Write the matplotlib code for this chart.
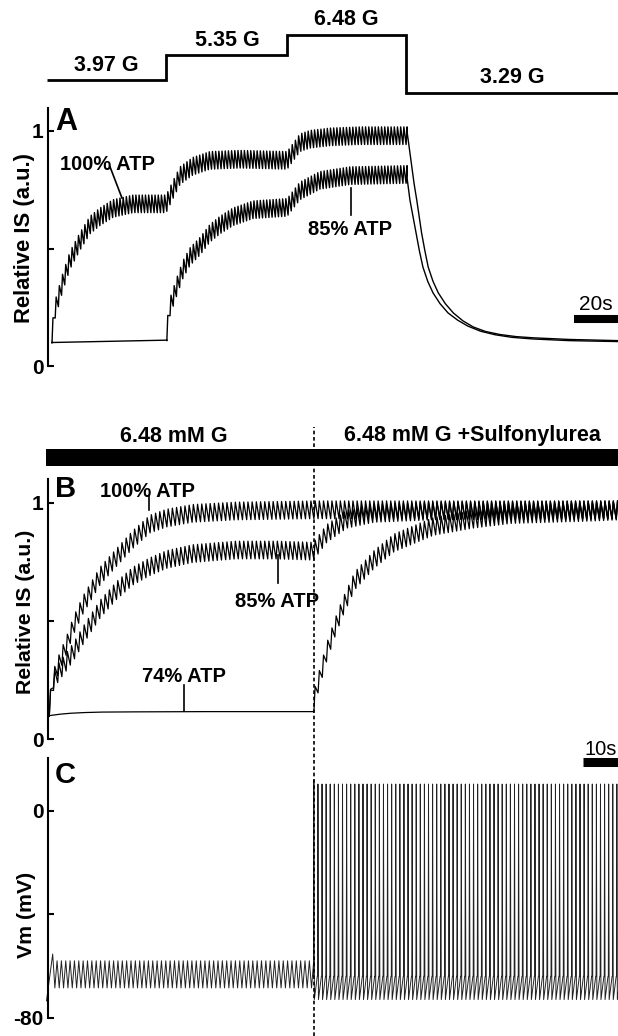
import numpy as np
import matplotlib.pyplot as plt

plt.rcParams['font.family'] = ['Liberation Sans', 'DejaVu Sans']
plt.rcParams['font.weight'] = 'bold'

W, H = 618, 1036

# ---- data ----
# glucose protocol (mM) above panel A, time in s
gluc_levels = [3.97, 5.35, 6.48, 3.29]
gluc_edges = [-2.5, 52, 107, 161, 257.3]
gluc_labels = ['3.97 G', '5.35 G', '6.48 G', '3.29 G']

# panel A: mid-line of the oscillating insulin secretion traces
a100_t = [0, 1.4, 5, 8.2, 12.7, 17.3, 21.8, 27.7, 36.8, 51.9, 55, 58.2, 64, 71.8,
          85.5, 106.9, 112.7, 117.3, 126.4, 140, 161]
a100_v = [0.135, 0.24, 0.36, 0.45, 0.53, 0.60, 0.635, 0.67, 0.69, 0.69, 0.75, 0.81,
          0.85, 0.875, 0.88, 0.875, 0.95, 0.965, 0.975, 0.98, 0.98]
a85_base_t = [0, 52.2]
a85_base_v = [0.10, 0.11]
a85_t = [52.2, 53.6, 56.8, 59.5, 62.7, 67.3, 71.8, 76.4, 82.3, 91.4, 106.9, 112.7,
         121.8, 135.5, 161]
a85_v = [0.145, 0.25, 0.34, 0.41, 0.465, 0.51, 0.565, 0.60, 0.635, 0.665, 0.675,
         0.745, 0.79, 0.81, 0.815]
# decay after glucose drop to 3.29 mM
a100_dec_t = [161.5, 162.5, 163.5, 164.6, 165.8, 166.9, 168, 169.5, 171, 173.2, 175.6,
              178.8, 182.4, 186.8, 191.5, 197, 203.6, 211, 218.6, 235, 257.3]
a100_dec_v = [0.99, 0.92, 0.847, 0.775, 0.706, 0.636, 0.566, 0.49, 0.421, 0.36, 0.311,
              0.265, 0.226, 0.192, 0.166, 0.147, 0.134, 0.125, 0.12, 0.113, 0.108]
a85_dec_t = [161.4, 162.7, 164.1, 165.5, 167, 168.6, 170.8, 173.2, 176.4, 180, 184.4,
             189, 194.8, 201.4, 209, 218.6, 235, 257.3]
a85_dec_v = [0.80, 0.706, 0.636, 0.566, 0.49, 0.421, 0.36, 0.311, 0.265, 0.226, 0.195,
             0.17, 0.148, 0.133, 0.122, 0.115, 0.108, 0.104]
a_period, a_amp = 1.45, 0.075

# panel B: 6.48 mM G, sulfonylurea added at su_time
su_time = 75.5
b_end = 162.5
b100_t = [0, 1.06, 2.5, 5.0, 6.9, 9.7, 14.5, 19.3, 23.9, 28.8, 33.5, 41, 53.3, 76, b_end]
b100_v = [0.135, 0.25, 0.31, 0.40, 0.48, 0.57, 0.69, 0.77, 0.845, 0.91, 0.935, 0.955,
          0.965, 0.97, 0.97]
b85_t = [0, 1.06, 2.5, 5.0, 6.9, 9.7, 14.5, 19.3, 23.9, 28.8, 33.5, 41, 53.3, 65, 75.5,
         79.3, 85, 92.8, 109.6, b_end]
b85_v = [0.135, 0.24, 0.28, 0.33, 0.37, 0.44, 0.55, 0.63, 0.69, 0.73, 0.76, 0.785, 0.80,
         0.80, 0.795, 0.87, 0.93, 0.955, 0.965, 0.97]
b74_base_t = [0, 3, 6, 10, 15, 25, 45, 75.5]
b74_base_v = [0.10, 0.106, 0.110, 0.113, 0.115, 0.116, 0.117, 0.117]
b74_t = [75.6, 76, 77.1, 79.3, 81.6, 83.9, 87.3, 92.8, 98.5, 109.8, 121, 132, 155, b_end]
b74_v = [0.152, 0.19, 0.25, 0.37, 0.47, 0.56, 0.67, 0.76, 0.83, 0.90, 0.93, 0.95, 0.96,
         0.965]
b_period, b_amp = 1.2, 0.075

# panel C: membrane potential (mV)
vm_start_t = [-0.8, 0.97]
vm_start_v = [-73.5, -55.4]
vm_osc_hi, vm_osc_lo, vm_osc_period = -58.0, -68.5, 1.243
spike_peak, spike_first, spike_trough, spike_thresh = 10.3, 11.7, -73.0, -64.0
spike_period = 1.17


def zigzag(env_t, env_v, period, amp, rise=0.3):
    tk = np.arange(env_t[0], env_t[-1], period)
    lo = np.interp(tk, env_t, env_v) - amp / 2
    hi = np.interp(tk + rise * period, env_t, env_v) + amp / 2
    return (np.column_stack([tk, tk + rise * period]).ravel(),
            np.column_stack([lo, hi]).ravel())


def fy(y):
    return 1 - y / H


fig = plt.figure(figsize=(W / 100, H / 100), dpi=100)


def px_axes(x0, y0, x1, y1):
    ax = fig.add_axes([x0 / W, 1 - y1 / H, (x1 - x0) / W, (y1 - y0) / H])
    ax.patch.set_alpha(0)
    return ax


def style_left(ax):
    for s in ['top', 'right', 'bottom']:
        ax.spines[s].set_visible(False)
    ax.spines['left'].set_linewidth(1.5)
    ax.set_xticks([])
    ax.tick_params(axis='y', direction='in', length=4, width=1.5, pad=3,
                   labelsize=15)


# ---- glucose protocol ----
axg = px_axes(40, 0, 618, 110)
axg.set_xlim((40 - 52) / 2.2, (618 - 52) / 2.2)
axg.set_ylim(2.329, 8.403)
axg.axis('off')
axg.stairs(gluc_levels, gluc_edges, color='black', lw=2.0, baseline=None)
for i, lab in enumerate(gluc_labels):
    mid = (gluc_edges[i] + gluc_edges[i + 1]) / 2
    axg.annotate(lab, (mid, gluc_levels[i]), xytext=(0, 7), textcoords='offset points',
                 ha='center', va='baseline', fontsize=15.5, fontweight='bold')

# ---- panel A ----
axa = px_axes(47.5, 108, 618, 366)
axa.set_xlim((47.5 - 52) / 2.2, (618 - 52) / 2.2)
axa.set_ylim(0, (366 - 108) / 235)
style_left(axa)
axa.set_yticks([0, 0.5, 1], ['0', '', '1'])

t1, v1 = zigzag(a100_t, a100_v, a_period, a_amp)
t1 = np.concatenate([[0], t1, a100_dec_t])
v1 = np.concatenate([[0.10], v1, a100_dec_v])
axa.plot(t1, v1, color='black', lw=1.0)
t2, v2 = zigzag(a85_t, a85_v, a_period, a_amp)
t2 = np.concatenate([a85_base_t, t2, a85_dec_t])
v2 = np.concatenate([a85_base_v, v2, a85_dec_v])
axa.plot(t2, v2, color='black', lw=1.0)

axa.text(25.2, (366 - 170) / 235, '100% ATP', ha='center', va='baseline', fontsize=14.5)
axa.plot([26.4, 31.8], [0.847, 0.715], color='black', lw=1.2)
axa.text(135.7, (366 - 235) / 235, '85% ATP', ha='center', va='baseline', fontsize=14.5)
axa.plot([135.9, 135.9], [0.757, 0.643], color='black', lw=1.2)

# 20 s scale bar
axa.plot([257.3 - 20, 257.3], [0.2, 0.2], color='black', lw=5.8,
         solid_capstyle='butt', clip_on=False)
axa.annotate('20s', (257.3 - 10, 0.2), xytext=(0, 6.5), textcoords='offset points',
             ha='center', va='baseline', fontsize=15, fontweight='normal')

fig.text(55 / W, fy(130), 'A', fontsize=22, fontweight='bold', va='baseline')
fig.text(25 / W, fy(238), 'Relative IS (a.u.)', rotation=90, ha='center',
         va='center', fontsize=15.8, fontweight='bold')

# ---- condition bar for B/C ----
bx0 = (47.5 - 49.3) / 3.5
axc0 = px_axes(40, 415, 618, 475)
axc0.set_xlim((40 - 49.3) / 3.5, b_end)
axc0.set_ylim(475, 415)
axc0.axis('off')
axc0.fill_between([-0.8, b_end], 449, 466, color='black', lw=0)
axc0.text(35.6, 441.5, '6.48 mM G', ha='center', va='baseline', fontsize=15.5)
axc0.text(120.8, 441.5, '6.48 mM G +Sulfonylurea', ha='center', va='baseline',
          fontsize=15.5)

# ---- panel B ----
axb = px_axes(47.5, 479, 618, 739.3)
axb.set_xlim(bx0, b_end)
axb.set_ylim(0, (739.3 - 479) / 236.6)
style_left(axb)
axb.set_yticks([0, 0.5, 1], ['0', '', '1'])

for et, ev, bt, bv in [(b100_t, b100_v, [0], [0.10]),
                       (b85_t, b85_v, [0], [0.10]),
                       (b74_t, b74_v, b74_base_t, b74_base_v)]:
    tz, vz = zigzag(et, ev, b_period, b_amp)
    axb.plot(np.concatenate([bt, tz]), np.concatenate([bv, vz]), color='black', lw=0.9)


def bv(y):
    return (739.3 - y) / 236.6


axb.text(28.2, bv(497), '100% ATP', ha='center', va='baseline', fontsize=14.5)
axb.plot([28.5, 28.5], [bv(496), bv(510)], color='black', lw=1.2, clip_on=False)
axb.text(65.1, bv(607), '85% ATP', ha='center', va='baseline', fontsize=14.5)
axb.plot([65.3, 65.3], [bv(555), bv(583)], color='black', lw=1.2)
axb.text(38.6, bv(682), '74% ATP', ha='center', va='baseline', fontsize=14.5)
axb.plot([38.6, 38.6], [bv(685), bv(711)], color='black', lw=1.2)

# 10 s scale bar
axb.plot([b_end - 10, b_end], [bv(761.5)] * 2, color='black', lw=6.5,
         solid_capstyle='butt', clip_on=False)
axb.annotate('10s', (b_end - 5, bv(761.5)), xytext=(0, 4.5), textcoords='offset points',
             ha='center', va='baseline', fontsize=14.5, fontweight='normal',
             annotation_clip=False)

fig.text(55 / W, fy(497), 'B', fontsize=21, fontweight='bold', va='baseline')
fig.text(26 / W, fy(612), 'Relative IS (a.u.)', rotation=90, ha='center',
         va='center', fontsize=15.3, fontweight='bold')

# ---- panel C ----
axv = px_axes(47.5, 758, 618, 1017.7)
axv.set_xlim(bx0, b_end)
axv.set_ylim(-80, -80 + (1017.7 - 758) / 2.5875)
style_left(axv)
axv.set_yticks([-80, -40, 0], ['-80', '', '0'])

tk = np.arange(vm_start_t[1], su_time, vm_osc_period)
t_osc = np.column_stack([tk + 0.5 * vm_osc_period, tk + vm_osc_period]).ravel()
v_osc = np.tile([vm_osc_lo, vm_osc_hi], len(tk))
sk = np.arange(su_time, b_end, spike_period)
t_sp = np.column_stack([sk, sk + 0.08 * spike_period, sk + 0.2 * spike_period,
                        sk + 0.92 * spike_period]).ravel()
peaks = np.full(len(sk), spike_peak)
peaks[0] = spike_first
v_sp = np.column_stack([np.full(len(sk), spike_thresh), peaks,
                        np.full(len(sk), spike_trough),
                        np.full(len(sk), spike_thresh)]).ravel()
t_vm = np.concatenate([vm_start_t, t_osc, t_sp])
v_vm = np.concatenate([vm_start_v, v_osc, v_sp])
axv.plot(t_vm, v_vm, color='#222222', lw=0.7, clip_on=False)

fig.text(55 / W, fy(783), 'C', fontsize=21, fontweight='bold', va='baseline')
fig.text(26.5 / W, fy(915), 'Vm (mV)', rotation=90, ha='center', va='center',
         fontsize=15.3, fontweight='bold')

# ---- dashed line marking sulfonylurea ----
axd = px_axes(47.5, 427, 618, 1036)
axd.set_xlim(bx0, b_end)
axd.set_ylim(0, 1)
axd.axis('off')
axd.axvline(su_time, color='black', lw=1.2, dashes=(2.2, 1.6))

fig.savefig('out.png', dpi=100)
